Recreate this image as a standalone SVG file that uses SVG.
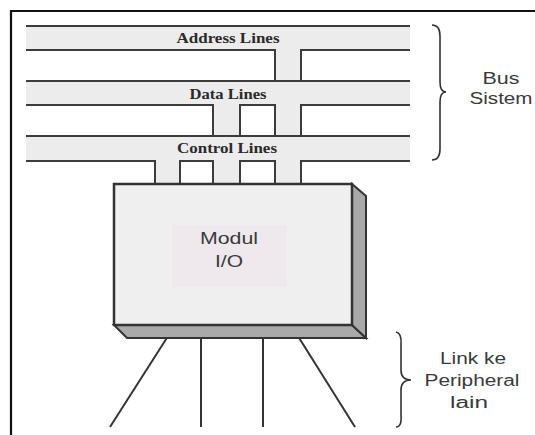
<svg xmlns="http://www.w3.org/2000/svg" width="535" height="435" viewBox="0 0 535 435">
<style>
.bar{fill:#ececec;stroke:none}
.edge{stroke:#3c3c3c;stroke-width:2;fill:none}
.bl{font-family:"Liberation Serif",serif;font-weight:bold;font-size:14.5px;fill:#2a2a2a}
.lab{font-family:"Liberation Sans",Arial,sans-serif;font-size:16px;fill:#3a3a3a}
.wire{stroke:#333;stroke-width:2;fill:none}
.brace{stroke:#333;stroke-width:1.6;fill:none}
</style>
<rect width="535" height="435" fill="#fff"/>
<path d="M11,435 V11 H535" fill="none" stroke="#111" stroke-width="2.2"/>
<g id="bus">
  <rect class="bar" x="26" y="26" width="384" height="24"/>
  <rect class="bar" x="26" y="81" width="384" height="24"/>
  <rect class="bar" x="26" y="136" width="384" height="25"/>
  <rect class="bar" x="275" y="50" width="26" height="134"/>
  <rect class="bar" x="213" y="105" width="27" height="79"/>
  <rect class="bar" x="155" y="161" width="25" height="23"/>
</g>
<g id="connectors">
  <path class="edge" d="M26,26 H410" stroke="#666"/>
  <path class="edge" d="M26,50 H275 V81 M301,81 V50 H410"/>
  <path class="edge" d="M26,81 H410 M26,105 H213 V136 M240,136 V105 H275 V136 M301,136 V105 H410"/>
  <path class="edge" d="M26,136 H410 M26,161 H155 V184 M180,184 V161 H213 V184 M240,184 V161 H275 V184 M301,184 V161 H410"/>
  <line class="wire" x1="170" y1="333" x2="110" y2="427"/>
  <line class="wire" x1="201" y1="333" x2="201" y2="427"/>
  <line class="wire" x1="263" y1="333" x2="263" y2="427"/>
  <line class="wire" x1="296" y1="333" x2="355" y2="427"/>
</g>
<g id="address-label"><text class="bl" x="228" y="43" text-anchor="middle" textLength="103" lengthAdjust="spacingAndGlyphs">Address Lines</text></g>
<g id="data-label"><text class="bl" x="228" y="99" text-anchor="middle" textLength="77" lengthAdjust="spacingAndGlyphs">Data Lines</text></g>
<g id="control-label"><text class="bl" x="227" y="153" text-anchor="middle" textLength="100" lengthAdjust="spacingAndGlyphs">Control Lines</text></g>
<g id="io-module">
  <polygon points="114,325 352,325 366,338 127,338" fill="#a9a9a9" stroke="#333" stroke-width="2"/>
  <polygon points="352,184 366,196 366,338 352,325" fill="#a9a9a9" stroke="#333" stroke-width="2"/>
  <rect x="114" y="184" width="238" height="141" fill="#efefef" stroke="#333" stroke-width="2.5"/>
  <rect x="172" y="225" width="115" height="62" fill="#efe9ee"/>
  <text class="lab" x="229" y="244" text-anchor="middle" font-size="17" textLength="58" lengthAdjust="spacingAndGlyphs">Modul</text>
  <text class="lab" x="229" y="267" text-anchor="middle" font-size="17" textLength="28" lengthAdjust="spacingAndGlyphs">I/O</text>
</g>
<g id="bus-system">
  <path class="brace" d="M432,25 Q440,25 440,36 L440,82 Q440,92 446,92 Q440,92 440,102 L440,149 Q440,160 432,160"/>
  <text class="lab" x="501" y="84" text-anchor="middle" textLength="37" lengthAdjust="spacingAndGlyphs">Bus</text>
  <text class="lab" x="501" y="104" text-anchor="middle" textLength="63" lengthAdjust="spacingAndGlyphs">Sistem</text>
</g>
<g id="peripheral-link">
  <path class="brace" d="M396,332 Q402,333 401,345 L401,370 Q401,380 411,380 Q401,380 401,390 L401,415 Q402,427 396,427"/>
  <text class="lab" x="473" y="364" text-anchor="middle" textLength="66" lengthAdjust="spacingAndGlyphs">Link ke</text>
  <text class="lab" x="472" y="386" text-anchor="middle" textLength="95" lengthAdjust="spacingAndGlyphs">Peripheral</text>
  <text class="lab" x="469" y="408" text-anchor="middle" textLength="38" lengthAdjust="spacingAndGlyphs">lain</text>
</g>
</svg>
